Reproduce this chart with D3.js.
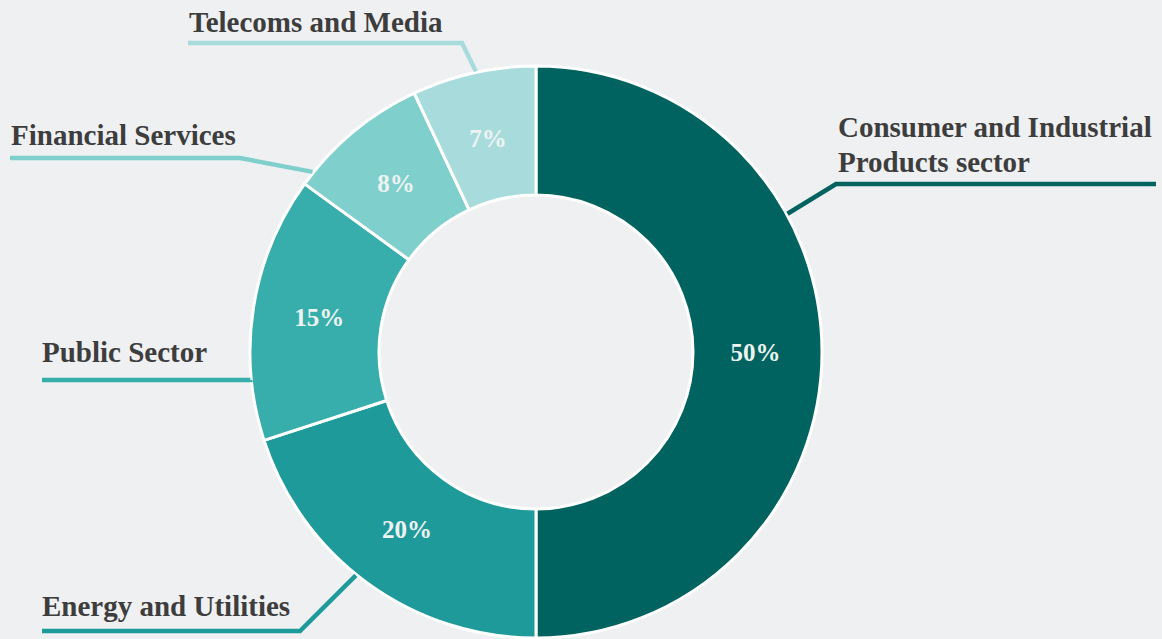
<!DOCTYPE html>
<html>
<head>
<meta charset="utf-8">
<script src="https://cdn.jsdelivr.net/npm/d3@7/dist/d3.min.js"></script>
<style>
  html, body { margin: 0; padding: 0; background: #eff0f2; }
  svg { display: block; }
  .name { font-family: "Liberation Serif", "DejaVu Serif", serif; font-weight: bold; fill: #3d3d3d; }
  .pct { font-family: "Liberation Serif", "DejaVu Serif", serif; font-weight: bold; fill: #eef3f2; }
</style>
</head>
<body>
<svg id="chart" width="1162" height="639"></svg>
<script>
// Share of work by sector, clockwise from 12 o'clock
const sectors = ["Consumer and Industrial Products sector", "Energy and Utilities", "Public Sector", "Financial Services", "Telecoms and Media"];
const shares = [50, 20, 15, 8, 7];
const colors = ["#00635f", "#1f9a9b", "#37aeab", "#7fcfcc", "#a8dcdc"];

const W = 1162, H = 639;
const cx = 536, cy = 352;
const outerR = 286, innerR = 157;

const svg = d3.select("#chart");
svg.append("rect").attr("width", W).attr("height", H).attr("fill", "#eff0f2");

const pie = d3.pie().sort(null).value(d => d.value).startAngle(0).endAngle(2 * Math.PI);
const rows = sectors.map((name, i) => ({ name, value: shares[i], color: colors[i] }));
const arcs = pie(rows);

const arc = d3.arc().innerRadius(innerR).outerRadius(outerR);
const midR = (innerR + outerR) / 2 - 2;
const labelArc = d3.arc().innerRadius(midR).outerRadius(midR);

const g = svg.append("g").attr("transform", `translate(${cx},${cy})`);

g.selectAll("path.slice")
  .data(arcs)
  .join("path")
  .attr("class", "slice")
  .attr("d", arc)
  .attr("fill", d => d.data.color)
  .attr("stroke", "#ffffff")
  .attr("stroke-width", 3)
  .attr("stroke-linejoin", "round");

g.selectAll("text.pct")
  .data(arcs)
  .join("text")
  .attr("class", "pct")
  .attr("transform", d => `translate(${labelArc.centroid(d)})`)
  .attr("text-anchor", "middle")
  .attr("dy", "0.35em")
  .attr("font-size", 25)
  .text(d => d.data.value + "%");

// Callout layout: label anchor, leader line path and where along the slice it meets the ring
const callouts = {
  "Consumer and Industrial Products sector": { x: 838, lines: ["Consumer and Industrial", "Products sector"], baseline: 137, lineY: 184, x0: 1156, elbowX: 836, at: 0.34 },
  "Energy and Utilities": { x: 42, lines: ["Energy and Utilities"], baseline: 616, lineY: 631, x0: 42, elbowX: 300, at: 0.54 },
  "Public Sector": { x: 42, lines: ["Public Sector"], baseline: 362, lineY: 380, x0: 42, elbowX: null, at: 0.23 },
  "Financial Services": { x: 11, lines: ["Financial Services"], baseline: 145, lineY: 158, x0: 10, elbowX: 240, at: 0.1 },
  "Telecoms and Media": { x: 189, lines: ["Telecoms and Media"], baseline: 32, lineY: 43, x0: 188, elbowX: 462, at: 0.52 }
};

const lineHeight = 35;
arcs.forEach(d => {
  const c = callouts[d.data.name];
  const a = d.startAngle + (d.endAngle - d.startAngle) * c.at;
  const px = cx + Math.sin(a) * (outerR + 1);
  const py = cy - Math.cos(a) * (outerR + 1);
  const elbowX = c.elbowX === null ? px : c.elbowX;
  const pts = [[c.x0, c.lineY], [elbowX, c.lineY], [px, py]];

  svg.append("path")
    .attr("d", d3.line()(pts))
    .attr("fill", "none")
    .attr("stroke", d.data.color)
    .attr("stroke-width", 4.5)
    .attr("stroke-linejoin", "miter");

  const t = svg.append("text")
    .attr("class", "name")
    .attr("x", c.x)
    .attr("y", c.baseline)
    .attr("font-size", 29);
  c.lines.forEach((ln, i) => {
    t.append("tspan").attr("x", c.x).attr("dy", i === 0 ? 0 : lineHeight).text(ln);
  });
});
</script>
</body>
</html>
